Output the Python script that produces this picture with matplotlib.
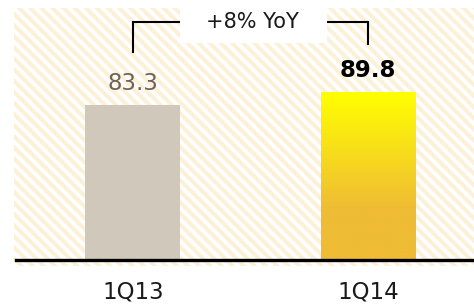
import matplotlib
matplotlib.use("Agg")
import matplotlib.pyplot as plt
import numpy as np
from matplotlib.patches import Rectangle
from matplotlib.colors import LinearSegmentedColormap

categories = ["1Q13", "1Q14"]
values = [83.3, 89.8]
value_labels = ["83.3", "89.8"]
growth_label = "+8% YoY"

W, H = 474, 306
plt.rcParams['hatch.linewidth'] = 2.8
plt.rcParams['hatch.color'] = '#fcf1d6'
fig = plt.figure(figsize=(W/100, H/100), dpi=100)

# axes: x from px 14 to 474, y baseline at px 260 (from top), top at px 8
ax = fig.add_axes([14/W, (H-260)/H, 460/W, 252/H])
ax.set_xlim(-0.506, 1.451)
ax.set_ylim(0, 135)
ax.axis('off')

# hatched background
bg = Rectangle((0, -0.025), 1, 1.025, transform=ax.transAxes, facecolor='white',
               edgecolor='#fcf1d6', hatch='\\\\\\', linewidth=0, zorder=0, clip_on=False)
ax.add_patch(bg)

x = np.arange(len(categories))
bars = ax.bar(x, values, width=0.404, color=['#d0c8bb', '#f0bd35'], zorder=2, linewidth=0)

# gradient on second bar
b = bars[1]
cmap = LinearSegmentedColormap.from_list('g', [(0, '#efbc35'), (0.3, '#efbc35'), (1, '#ffff00')])
grad = np.linspace(0, 1, 256).reshape(-1, 1)
im = ax.imshow(grad, cmap=cmap, aspect='auto', origin='lower',
               extent=[b.get_x(), b.get_x() + b.get_width(), 0, b.get_height()], zorder=3)
im.set_clip_path(b)
ax.set_xlim(-0.506, 1.451)
ax.set_ylim(0, 135)

# baseline
ax.axhline(0, xmin=0.004, xmax=1, color='black', lw=2.4, zorder=5, clip_on=False)

# value labels
ax.text(x[0], values[0] + 5.3, value_labels[0], ha='center', va='bottom', fontsize=16.5,
        color='#6e6259', fontfamily='DejaVu Sans')
ax.text(x[1], values[1] + 5.3, value_labels[1], ha='center', va='bottom', fontsize=16.5,
        color='black', fontweight='bold', fontfamily='DejaVu Sans')

# category labels
for xi, c in zip(x, categories):
    ax.text(xi, -17, c, ha='center', va='center', fontsize=16.5, color='#1a1a1a')

# bracket
yb = 127.5
ax.plot([x[0], x[0], x[1], x[1]], [111.5, yb, yb, 115.5], color='black', lw=1.5, zorder=4,
        solid_joinstyle='miter')
# white box with label
ax.add_patch(Rectangle((0.2, 116.3), 0.625, 20, facecolor='white', edgecolor='none', zorder=6,
                       clip_on=False))
ax.text(0.51, yb, growth_label, ha='center', va='center', fontsize=15, color='#1a1a1a', zorder=7)

fig.savefig('out.png', dpi=100)
